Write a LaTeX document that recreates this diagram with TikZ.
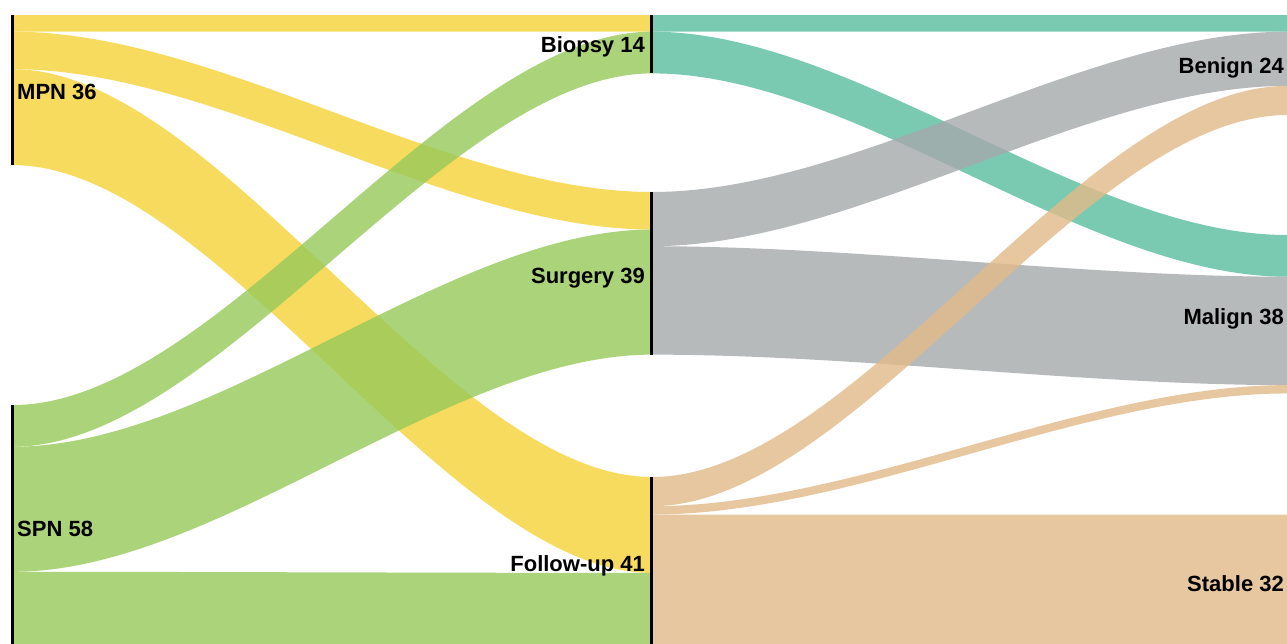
\documentclass[tikz,border=0pt]{standalone}
\usepackage{fontspec}
\setmainfont{Liberation Sans}
\usetikzlibrary{
  calc,
  positioning,
}
\definecolor{mpnyellow}{RGB}{245, 211, 55}
\definecolor{spngreen}{RGB}{151, 201, 89}
\definecolor{biopsyteal}{RGB}{89, 189, 159}
\definecolor{surgerygrey}{RGB}{165, 169, 171}
\definecolor{followtan}{RGB}{226, 186, 136}
\tikzstyle{nodebar} = [
  line width=2.5pt,
  black,
]
\tikzstyle{label} = [
  font=\fontsize{22}{26}\selectfont\bfseries,
  inner sep=0pt,
]
\tikzstyle{band} = [
  fill opacity=0.8,
]
% one link of the sankey: colour, source, offset, target, offset, value
\newcommand{\flowband}[6]{%
  \path (#2) ++(0,#3*4.17) coordinate (s1) ++(0,#6*4.17) coordinate (s2);
  \path (#4) ++(0,#5*4.17) coordinate (t1) ++(0,#6*4.17) coordinate (t2);
  \fill[band, #1] (s1) .. controls ($(s1)!0.32!(t1 |- s1)$) and ($(t1)!0.32!(s1 |- t1)$) .. (t1)
    -- (t2) .. controls ($(t2)!0.32!(s2 |- t2)$) and ($(s2)!0.32!(t2 |- s2)$) .. (s2) -- cycle;
}

\begin{document}
\begin{tikzpicture}[x=1pt, y=-1pt]
  \useasboundingbox (0,0) rectangle (1287,643);
  \fill[white] (0,0) rectangle (1287,643);
  \clip (0,0) rectangle (1287,643);
  % tops of the node bars
  \coordinate (mpn) at (13,15);
  \coordinate (spn) at (13,405);
  \coordinate (biopsy) at (652,15);
  \coordinate (surgery) at (652,192);
  \coordinate (followup) at (652,477);
  \coordinate (benign) at (1287,15);
  \coordinate (malign) at (1287,235);
  \coordinate (stable) at (1287,514.5);

  \flowband{mpnyellow}{mpn}{0}{biopsy}{0}{4}
  \flowband{mpnyellow}{mpn}{4}{surgery}{0}{9}
  \flowband{mpnyellow}{mpn}{13}{followup}{0}{23}
  \flowband{spngreen}{spn}{0}{biopsy}{4}{10}
  \flowband{spngreen}{spn}{10}{surgery}{9}{30}
  \flowband{spngreen}{spn}{40}{followup}{23}{18}
  \flowband{biopsyteal}{biopsy}{0}{benign}{0}{4}
  \flowband{biopsyteal}{biopsy}{4}{malign}{0}{10}
  \flowband{surgerygrey}{surgery}{0}{benign}{4}{13}
  \flowband{surgerygrey}{surgery}{13}{malign}{10}{26}
  \flowband{followtan}{followup}{0}{benign}{17}{7}
  \flowband{followtan}{followup}{7}{malign}{36}{2}
  \flowband{followtan}{followup}{9}{stable}{0}{32}

  \draw[nodebar] ($(mpn)+(-0.5,0)$) -- ++(0,36*4.17);
  \draw[nodebar] ($(spn)+(-0.5,0)$) -- ++(0,58*4.17);
  \draw[nodebar] ($(biopsy)+(-0.5,0)$) -- ++(0,14*4.17);
  \draw[nodebar] ($(surgery)+(-0.5,0)$) -- ++(0,39*4.17);
  \draw[nodebar] ($(followup)+(-0.5,0)$) -- ++(0,41*4.17);

  \node[label, anchor=base west] (mpnlabel) at (17,99) {MPN 36};
  \node[label, anchor=base west] (spnlabel) at (17,536) {SPN 58};
  \node[label, anchor=base east] (biopsylabel) at (645,52) {Biopsy 14};
  \node[label, anchor=base east] (surgerylabel) at (645,283) {Surgery 39};
  \node[label, anchor=base east] (followuplabel) at (645,571) {Follow-up 41};
  \node[label, anchor=base east] (benignlabel) at (1284,73) {Benign 24};
  \node[label, anchor=base east] (malignlabel) at (1284,324) {Malign 38};
  \node[label, anchor=base east] (stablelabel) at (1284,591) {Stable 32};
\end{tikzpicture}
\end{document}
